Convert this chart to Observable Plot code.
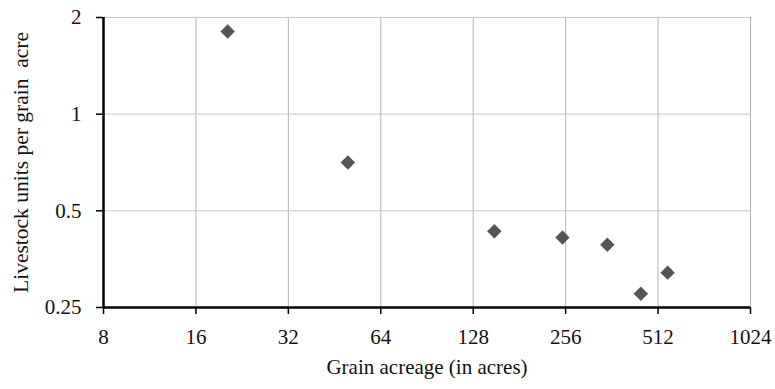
<!DOCTYPE html>
<html><head><meta charset="utf-8">
<script src="https://cdn.jsdelivr.net/npm/d3@7"></script>
<script src="https://cdn.jsdelivr.net/npm/@observablehq/plot@0.6"></script>
<style>body{margin:0;background:#fff}</style>
</head><body><div id="chart"></div>
<script>
const acreage = [20.3, 50, 150, 250, 350, 450, 550];
const livestock = [1.81, 0.707, 0.432, 0.413, 0.392, 0.276, 0.321];
const xTicks = [8, 16, 32, 64, 128, 256, 512, 1024];
const yTicks = [0.25, 0.5, 1, 2];
const data = acreage.map((a, i) => ({a, l: livestock[i]}));
const font = "'Liberation Serif', 'DejaVu Serif', serif";
const chart = Plot.plot({
  width: 775, height: 389,
  marginLeft: 103, marginRight: 25, marginTop: 17, marginBottom: 82,
  style: {fontFamily: font, fontSize: "21px", color: "#111", background: "#fff"},
  x: {type: "log", base: 2, domain: [8, 1024], ticks: xTicks, tickFormat: d => String(d), label: null},
  y: {type: "log", base: 2, domain: [0.25, 2], ticks: yTicks, tickFormat: d => String(d), label: null},
  marks: [
    Plot.gridX(xTicks, {stroke: "#b5b5b5", strokeOpacity: 1, strokeWidth: 1}),
    Plot.gridY(yTicks, {stroke: "#c8c8c8", strokeOpacity: 1, strokeWidth: 1}),
    Plot.axisX(xTicks, {tickSize: 7, tickPadding: 15, stroke: "#000", strokeWidth: 1.5, tickFormat: d => String(d), fontSize: 21, label: null}),
    Plot.axisY(yTicks, {tickSize: 7, tickPadding: 15, stroke: "#000", strokeWidth: 1.5, tickFormat: d => String(d), fontSize: 21, label: null}),
    Plot.ruleY([0.25], {stroke: "#000", strokeWidth: 2.5}),
    Plot.ruleX([8], {stroke: "#000", strokeWidth: 2.5}),
    Plot.dot(data, {x: "a", y: "l", symbol: "diamond2", r: 6.5, fill: "#555", stroke: null}),
    Plot.text(["Grain acreage (in acres)"], {frameAnchor: "bottom", dy: 66, fontSize: 21, fill: "#111"}),
    Plot.text(["Livestock units per grain  acre"], {frameAnchor: "left", dx: -82, rotate: -90, fontSize: 21.5, fill: "#111", textAnchor: "middle"})
  ]
});
document.getElementById("chart").appendChild(chart);
</script></body></html>
